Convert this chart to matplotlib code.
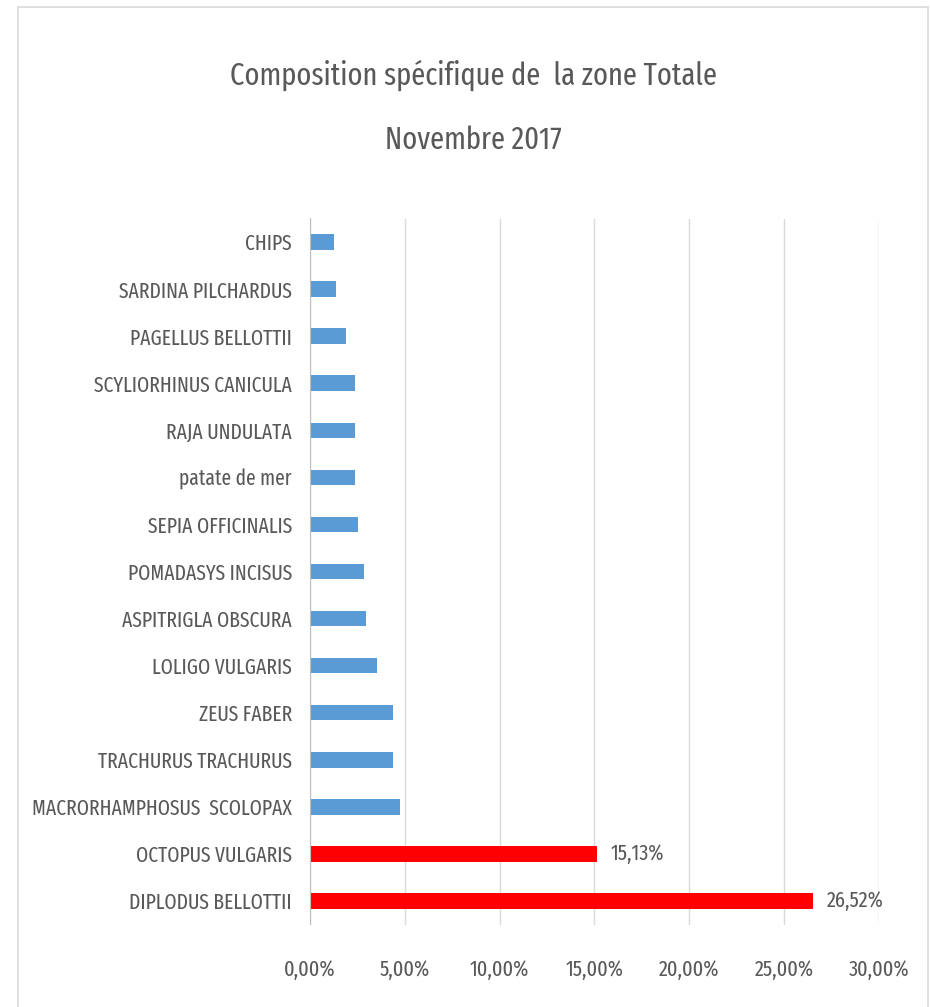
import matplotlib
matplotlib.use("Agg")
import matplotlib.pyplot as plt
from matplotlib.patches import Rectangle
from matplotlib.ticker import FuncFormatter

species = ["CHIPS", "SARDINA PILCHARDUS", "PAGELLUS BELLOTTII", "SCYLIORHINUS CANICULA",
           "RAJA UNDULATA", "patate de mer", "SEPIA OFFICINALIS", "POMADASYS INCISUS",
           "ASPITRIGLA OBSCURA", "LOLIGO VULGARIS", "ZEUS FABER", "TRACHURUS TRACHURUS",
           "MACRORHAMPHOSUS  SCOLOPAX", "OCTOPUS VULGARIS", "DIPLODUS BELLOTTII"]
values = [1.25, 1.39, 1.92, 2.39, 2.39, 2.39, 2.53, 2.86, 2.93, 3.52, 4.38, 4.38, 4.75, 15.13, 26.52]
highlighted = ["OCTOPUS VULGARIS", "DIPLODUS BELLOTTII"]
xticks = [0, 5, 10, 15, 20, 25, 30]
title_lines = ["Composition spécifique de  la zone Totale", "Novembre 2017"]

FONT = ["Fira Sans Extra Condensed", "DejaVu Sans"]
TXT = "#595959"
plt.rcParams['font.family'] = FONT
plt.rcParams['font.weight'] = 400

fig = plt.figure(figsize=(9.30, 10.07), dpi=100)
fig.patch.set_facecolor("white")
fig.add_artist(Rectangle((18/930, -0.01), (928-18)/930, 1 - 7/1007 + 0.01,
                         transform=fig.transFigure, fill=False, edgecolor="#d9d9d9", lw=1.2))

ax = fig.add_axes([310/930, 1 - 924.5/1007, (879-310)/930, (924.5-218.5)/1007])
colors = ["#FF0000" if s in highlighted else "#5B9BD5" for s in species]
ypos = list(range(len(species)))
ax.barh(ypos, values, height=0.33, color=colors, zorder=3)
ax.set_ylim(len(species) - 0.5, -0.5)
ax.set_xlim(0, 30.02)
ax.set_yticks(ypos)
ax.set_yticklabels(species, fontsize=15.3, color=TXT)
ax.set_xticks(xticks)
ax.xaxis.set_major_formatter(FuncFormatter(lambda v, p: f"{v:.2f}%".replace(".", ",")))
for lab in ax.get_xticklabels():
    lab.set_fontsize(15.8)
    lab.set_color(TXT)
ax.tick_params(axis="both", length=0)
ax.tick_params(axis="y", pad=13)
ax.tick_params(axis="x", pad=25)
ax.grid(axis="x", color="#d9d9d9", lw=1, zorder=0)
for s in ["top", "right", "bottom"]:
    ax.spines[s].set_visible(False)
ax.spines["left"].set_color("#bfbfbf")
ax.spines["left"].set_zorder(4)

for i, (s, v) in enumerate(zip(species, values)):
    if s in highlighted:
        ax.annotate(f"{v:.2f}%".replace(".", ","), (v, i), xytext=(10, 0),
                    textcoords="offset points", va="center", ha="left",
                    fontsize=15.8, color=TXT)

fig.text(473/930, 1 - 75/1007, title_lines[0], ha="center", va="center", fontsize=22.3, color=TXT)
fig.text(473/930, 1 - 140/1007, title_lines[1], ha="center", va="center", fontsize=22.3, color=TXT)

fig.savefig("out.png", dpi=100, facecolor="white")
